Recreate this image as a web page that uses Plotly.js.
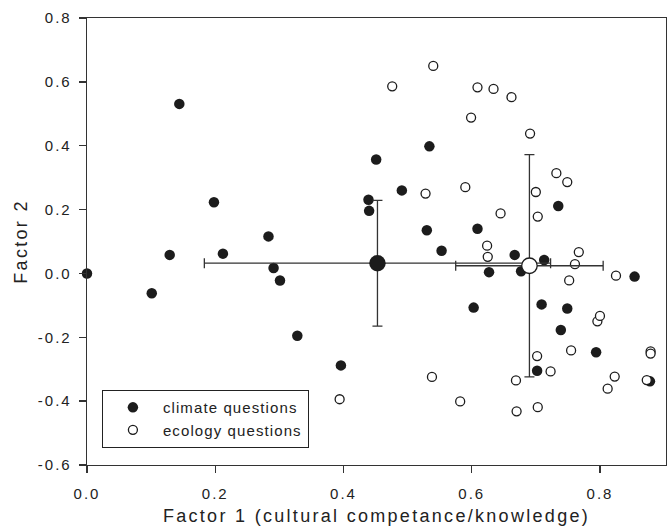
<!DOCTYPE html>
<html>
<head>
<meta charset="utf-8">
<script src="https://cdn.plot.ly/plotly-3.0.1.min.js"></script>
<style>
html,body{margin:0;padding:0;background:#fff;}
#chart{width:668px;height:526px;}
text{letter-spacing:1.6px;}
.xtick text, .ytick text{letter-spacing:2px;}
text.legendtext{letter-spacing:1.1px;}
.g-xtitle text, .g-ytitle text{letter-spacing:2.3px;}
</style>
</head>
<body>
<div id="chart"></div>
<script>
// Climate questions (filled circles)
const climateX = [0.000,0.101,0.129,0.144,0.198,0.212,0.283,0.291,0.301,0.328,0.396,0.439,0.440,0.451,0.491,0.530,0.534,0.553,0.603,0.609,0.627,0.667,0.677,0.702,0.709,0.713,0.735,0.739,0.749,0.794,0.854,0.878];
const climateY = [0.000,-0.062,0.058,0.531,0.223,0.062,0.116,0.017,-0.022,-0.195,-0.288,0.231,0.196,0.357,0.260,0.135,0.398,0.071,-0.107,0.140,0.004,0.058,0.007,-0.305,-0.097,0.042,0.211,-0.177,-0.110,-0.247,-0.010,-0.338];

// Ecology questions (open circles)
const ecologyX = [0.394,0.476,0.528,0.538,0.540,0.582,0.590,0.599,0.609,0.624,0.625,0.634,0.645,0.662,0.669,0.670,0.691,0.700,0.702,0.703,0.703,0.723,0.732,0.749,0.752,0.755,0.761,0.767,0.796,0.800,0.812,0.823,0.825,0.873,0.879,0.879];
const ecologyY = [-0.394,0.586,0.250,-0.324,0.650,-0.401,0.270,0.488,0.583,0.087,0.052,0.578,0.188,0.552,-0.335,-0.432,0.438,0.255,-0.259,0.178,-0.419,-0.307,0.314,0.286,-0.022,-0.241,0.029,0.067,-0.150,-0.133,-0.361,-0.323,-0.007,-0.334,-0.244,-0.251];

// Group means with error bars
const climateMeanX = [0.453];
const climateMeanY = [0.032];
const climateErrX = [0.270];
const climateErrY = [0.197];
const ecologyMeanX = [0.690];
const ecologyMeanY = [0.024];
const ecologyErrX = [0.115];
const ecologyErrY = [0.348];

const legendNames = ['climate questions', 'ecology questions'];
const xTitle = 'Factor 1 (cultural competance/knowledge)';
const yTitle = 'Factor 2';
const xTickVals = [0, 0.2, 0.4, 0.6, 0.8];
const xTickText = ['0.0','0.2','0.4','0.6','0.8'];
const yTickVals = [-0.6,-0.4,-0.2,0,0.2,0.4,0.6,0.8];
const yTickText = ['-0.6','-0.4','-0.2','0.0','0.2','0.4','0.6','0.8'];

const dark = '#1c1c1c';
const axisCol = '#333333';

const traces = [
  {
    x: climateX, y: climateY, type: 'scatter', mode: 'markers',
    name: legendNames[0], legendgroup: 'c', cliponaxis: false,
    marker: {size: 10.5, color: dark, line: {width: 0}}
  },
  {
    x: ecologyX, y: ecologyY, type: 'scatter', mode: 'markers',
    name: legendNames[1], legendgroup: 'e', cliponaxis: false,
    marker: {size: 9, color: '#ffffff', line: {width: 1.3, color: dark}}
  },
  {
    x: climateMeanX, y: climateMeanY, type: 'scatter', mode: 'markers',
    showlegend: false, cliponaxis: false,
    marker: {size: 16.5, color: dark, line: {width: 0}},
    error_x: {type: 'data', array: climateErrX, visible: true, color: axisCol, thickness: 1.3, width: 5},
    error_y: {type: 'data', array: climateErrY, visible: true, color: axisCol, thickness: 1.3, width: 5}
  },
  {
    x: ecologyMeanX, y: ecologyMeanY, type: 'scatter', mode: 'markers',
    showlegend: false, cliponaxis: false,
    marker: {size: 15.5, color: '#ffffff', line: {width: 1.3, color: dark}},
    error_x: {type: 'data', array: ecologyErrX, visible: true, color: axisCol, thickness: 1.3, width: 5},
    error_y: {type: 'data', array: ecologyErrY, visible: true, color: axisCol, thickness: 1.3, width: 5}
  }
];

const font = {family: '"Liberation Sans", Arial, sans-serif', color: '#222222'};

const layout = {
  width: 668, height: 526,
  margin: {l: 87, r: 2, t: 18, b: 61, pad: 0},
  paper_bgcolor: '#ffffff', plot_bgcolor: '#ffffff',
  font: Object.assign({size: 14}, font),
  showlegend: true,
  xaxis: {
    range: [0, 0.903], tickvals: xTickVals, ticktext: xTickText,
    showgrid: false, zeroline: false, showline: true, mirror: true,
    linecolor: axisCol, linewidth: 1.3,
    ticks: 'outside', ticklen: 7, tickwidth: 1.3, tickcolor: axisCol,
    ticklabelstandoff: 8,
    tickfont: Object.assign({size: 15}, font),
    title: {text: xTitle, font: Object.assign({size: 18}, font), standoff: 10}
  },
  yaxis: {
    range: [-0.6, 0.8], tickvals: yTickVals, ticktext: yTickText,
    showgrid: false, zeroline: false, showline: true, mirror: true,
    linecolor: axisCol, linewidth: 1.3,
    ticks: 'outside', ticklen: 7, tickwidth: 1.3, tickcolor: axisCol,
    ticklabelstandoff: 4,
    tickfont: Object.assign({size: 15}, font),
    title: {text: yTitle, font: Object.assign({size: 18}, font), standoff: 5}
  },
  legend: {
    x: 0.0254, y: 0.168, xanchor: 'left', yanchor: 'top',
    bgcolor: '#ffffff', bordercolor: '#222222', borderwidth: 1.2,
    font: Object.assign({size: 15}, font),
    itemwidth: 50, tracegroupgap: 2, traceorder: 'normal'
  }
};

Plotly.newPlot('chart', traces, layout, {staticPlot: true, displayModeBar: false});
</script>
</body>
</html>
